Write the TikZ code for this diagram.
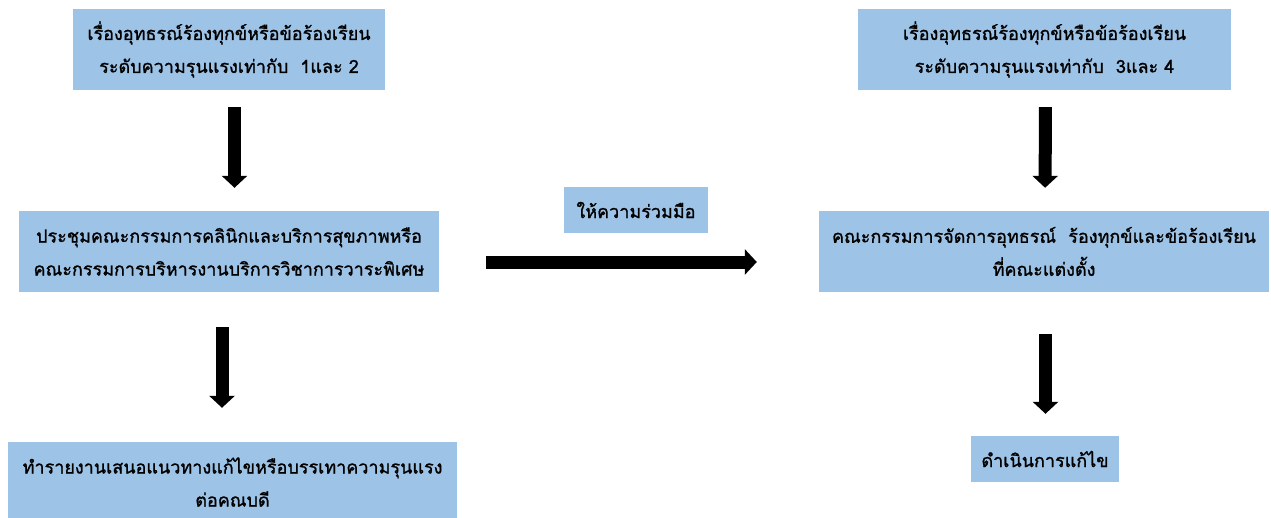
\documentclass[tikz,border=0pt]{standalone}
\usepackage{fontspec}
\newfontfamily\thaifont[Script=Thai,FakeBold=1.2]{Loma}
\usetikzlibrary{arrows.meta}
\definecolor{boxblue}{HTML}{9DC3E6}
\tikzset{
  infobox/.style={fill=boxblue, draw=none, inner sep=0pt, align=center,
    font=\thaifont\fontsize{18}{33}\selectfont, text=black},
  blockarrow/.style={line width=13pt, draw=black,
    -{Triangle[width=25pt,length=12pt]}}
}
\begin{document}
\begin{tikzpicture}[x=1pt,y=-1pt]
\useasboundingbox (0,0) rectangle (1271,517);

% left column
\node[infobox, minimum width=312pt, minimum height=81pt] (b1) at (229,49.5)
  {เรื่องอุทธรณ์ร้องทุกข์หรือข้อร้องเรียน\\ระดับความรุนแรงเท่ากับ~ 1และ 2};
\node[infobox, minimum width=420pt, minimum height=81pt] (b3) at (229,251.5)
  {ประชุมคณะกรรมการคลินิกและบริการสุขภาพหรือ\\คณะกรรมการบริหารงานบริการวิชาการวาระพิเศษ};
\node[infobox, minimum width=449pt, minimum height=80pt] (b5) at (232.5,482)
  {ทำรายงานเสนอแนวทางแก้ไขหรือบรรเทาความรุนแรง\\ต่อคณบดี};

% right column
\node[infobox, minimum width=373pt, minimum height=81pt] (b2) at (1044.5,49.5)
  {เรื่องอุทธรณ์ร้องทุกข์หรือข้อร้องเรียน\\ระดับความรุนแรงเท่ากับ~ 3และ 4};
\node[infobox, minimum width=450pt, minimum height=81pt] (b4) at (1044,251.5)
  {คณะกรรมการจัดการอุทธรณ์~ ร้องทุกข์และข้อร้องเรียน\\ที่คณะแต่งตั้ง};
\node[infobox, minimum width=148pt, minimum height=46pt] (b6) at (1045,459)
  {ดำเนินการแก้ไข};

% label over the horizontal arrow
\node[infobox, minimum width=144pt, minimum height=46pt] (lbl) at (636,210)
  {ให้ความร่วมมือ};

% connectors
\draw[blockarrow, shorten <=17pt, shorten >=23pt]
  ([xshift=5.5pt]b1.south) -- ([xshift=5.5pt]b3.north);
\draw[blockarrow, shorten <=35pt, shorten >=34pt]
  ([xshift=-7pt]b3.south) -- ([xshift=-10.5pt]b5.north);
\draw[blockarrow, shorten <=17pt, shorten >=23pt]
  ([xshift=1pt]b2.south) -- ([xshift=1pt]b4.north);
\draw[blockarrow, shorten <=42pt, shorten >=22pt]
  ([xshift=1.5pt]b4.south) -- ([xshift=0.5pt]b6.north);
\draw[blockarrow, shorten <=47pt, shorten >=62pt]
  ([yshift=-10.5pt]b3.east) -- ([yshift=-10.5pt]b4.west);
\end{tikzpicture}
\end{document}
